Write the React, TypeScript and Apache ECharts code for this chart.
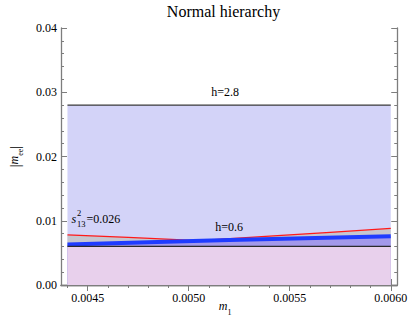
import { useEffect, useRef } from "react";
import * as echarts from "echarts";

// ---- data ----
const xEdge = [0.0044, 0.006];
const hHigh = [0.028, 0.028]; // h=2.8
const hLow = [0.006, 0.006]; // h=0.6
const redX = [0.0044, 0.0047, 0.00505, 0.0054, 0.0057, 0.006];
const redY = [0.0078, 0.0074, 0.0069, 0.0076, 0.0082, 0.0088];
const blueX = [0.0044, 0.0052, 0.006];
const blueY = [0.0063, 0.007, 0.0076];
const xMajor = [0.0045, 0.005, 0.0055, 0.006];
const xMinor = [
  0.0044, 0.0046, 0.0047, 0.0048, 0.0049, 0.0051, 0.0052, 0.0053, 0.0054,
  0.0056, 0.0057, 0.0058, 0.0059,
];
const yMajor = [0, 0.01, 0.02, 0.03, 0.04];
const yMinor = [
  0.002, 0.004, 0.006, 0.008, 0.012, 0.014, 0.016, 0.018, 0.022, 0.024, 0.026,
  0.028, 0.032, 0.034, 0.036, 0.038,
];
const titleText = "Normal hierarchy";
const labelH28 = "h=2.8";
const labelH06 = "h=0.6";
const s13Value = "=0.026";

const SERIF = "Liberation Serif";
const FRAME = "#7d7d7d";

const pairs = (xs: number[], ys: number[]) => xs.map((x, i) => [x, ys[i]]);

function xAxisDef(position: string, ticks: number[], len: number, main: boolean, extra: any = {}) {
  return {
    type: "value",
    position,
    min: 0.004368,
    max: 0.006032,
    axisLine: { show: main, lineStyle: { color: FRAME, width: 1.3 } },
    axisTick: { show: true, inside: true, length: len, customValues: ticks, lineStyle: { color: FRAME, width: 1 } },
    axisLabel: { show: false },
    splitLine: { show: false },
    ...extra,
  };
}
function yAxisDef(position: string, ticks: number[], len: number, main: boolean, extra: any = {}) {
  return {
    type: "value",
    position,
    min: 0,
    max: 0.04,
    axisLine: { show: main, lineStyle: { color: FRAME, width: 1.3 } },
    axisTick: { show: true, inside: true, length: len, customValues: ticks, lineStyle: { color: FRAME, width: 1 } },
    axisLabel: { show: false },
    splitLine: { show: false },
    ...extra,
  };
}

export default function App() {
  const ref = useRef<HTMLDivElement>(null);
  useEffect(() => {
    if (!ref.current) return;
    const chart = echarts.init(ref.current, null, { renderer: "svg" });
    const labelFont = { fontFamily: SERIF, fontSize: 12, color: "#000" };
    const option: any = {
      animation: false,
      textStyle: { fontFamily: SERIF },
      grid: { left: 47, right: 10, top: 28, bottom: 42 },
      xAxis: [
        xAxisDef("bottom", xMajor, 6, true, {
          axisLabel: {
            show: true,
            customValues: xMajor,
            margin: 7,
            formatter: (v: number) => Number(v).toFixed(4),
            ...labelFont,
          },
          name: "{it|m}{sub|1}",
          nameLocation: "middle",
          nameGap: 15,
          nameMoveOverlap: false,
          nameTextStyle: {
            fontFamily: SERIF,
            padding: [0, 8, 0, 0],
            rich: {
              it: { fontFamily: SERIF, fontStyle: "italic", fontSize: 12, lineHeight: 16, verticalAlign: "top", color: "#000" },
              sub: { fontFamily: SERIF, fontSize: 8, lineHeight: 8, verticalAlign: "bottom", color: "#000" },
            },
          },
        }),
        xAxisDef("bottom", xMinor, 3, false),
        xAxisDef("top", xMajor, 6, true),
        xAxisDef("top", xMinor, 3, false),
      ],
      yAxis: [
        yAxisDef("left", yMajor, 6, true, {
          axisLabel: {
            show: true,
            customValues: yMajor,
            margin: 4,
            formatter: (v: number) => Number(v).toFixed(2),
            ...labelFont,
          },
          name: "{bar||}{it|m}{sub|ee}{bar||}",
          nameLocation: "middle",
          nameGap: 37,
          nameTextStyle: {
            fontFamily: SERIF,
            rich: {
              bar: { fontFamily: SERIF, fontSize: 14, lineHeight: 16, verticalAlign: "top", color: "#000" },
              it: { fontFamily: SERIF, fontStyle: "italic", fontSize: 12, lineHeight: 16, verticalAlign: "top", color: "#000" },
              sub: { fontFamily: SERIF, fontSize: 8, lineHeight: 8, verticalAlign: "bottom", color: "#000" },
            },
          },
        }),
        yAxisDef("left", yMinor, 3, false),
        yAxisDef("right", yMajor, 6, true),
        yAxisDef("right", yMinor, 3, false),
      ],
      series: [
        {
          name: "h=2.8",
          type: "line",
          data: pairs(xEdge, hHigh),
          symbol: "none",
          lineStyle: { color: "#3a3a3a", width: 1.2 },
          areaStyle: { color: "#d3d3f8", opacity: 1 },
          z: 1,
        },
        {
          name: "upper",
          type: "line",
          data: pairs(redX, redY),
          symbol: "none",
          lineStyle: { color: "#ff1a1a", width: 1.2 },
          areaStyle: { color: "#c6c6cf", opacity: 1 },
          z: 2,
        },
        {
          name: "lowerArea",
          type: "line",
          data: pairs(blueX, blueY),
          symbol: "none",
          lineStyle: { width: 0 },
          areaStyle: { color: "#a399ea", opacity: 1 },
          z: 3,
        },
        {
          name: "h=0.6 area",
          type: "line",
          data: pairs(xEdge, hLow),
          symbol: "none",
          lineStyle: { width: 0 },
          areaStyle: { color: "#e8d0ec", opacity: 1 },
          z: 4,
        },
        {
          name: "lower",
          type: "line",
          data: pairs(blueX, blueY),
          symbol: "none",
          lineStyle: { color: "#1f3cff", width: 4 },
          z: 5,
        },
        {
          name: "h=0.6",
          type: "line",
          data: pairs(xEdge, hLow),
          symbol: "none",
          lineStyle: { color: "#2a2a2a", width: 1.2 },
          z: 6,
        },
      ],
    };
    chart.setOption(option);

    const px = (x: number, y: number) =>
      chart.convertToPixel({ xAxisIndex: 0, yAxisIndex: 0 }, [x, y]) as number[];
    const pH28 = px(0.00518, 0.0301);
    const pH06 = px(0.0052, 0.00905);
    const pS = px(0.00442, 0.0102);
    const txt = (x: number, y: number, text: string, size: number, align: string, italic = false) => ({
      type: "text",
      x,
      y,
      silent: true,
      z: 100,
      style: {
        text,
        fill: "#000",
        fontFamily: SERIF,
        fontSize: size,
        fontStyle: italic ? "italic" : "normal",
        align,
        verticalAlign: "middle",
      },
    });
    chart.setOption({
      graphic: [
        txt(223.5, 11, titleText, 16, "center"),
        txt(pH28[0], pH28[1], labelH28, 12, "center"),
        txt(pH06[0], pH06[1], labelH06, 12, "center"),
        txt(pS[0], pS[1], "s", 12, "left", true),
        txt(pS[0] + 5.5, pS[1] - 6, "2", 8.5, "left"),
        txt(pS[0] + 5.5, pS[1] + 5, "13", 8.5, "left"),
        txt(pS[0] + 15, pS[1], s13Value, 12, "left"),
      ],
    });
    return () => chart.dispose();
  }, []);
  return (
    <div
      ref={ref}
      style={{ position: "absolute", left: 0, top: 0, width: 410, height: 327 }}
    />
  );
}
